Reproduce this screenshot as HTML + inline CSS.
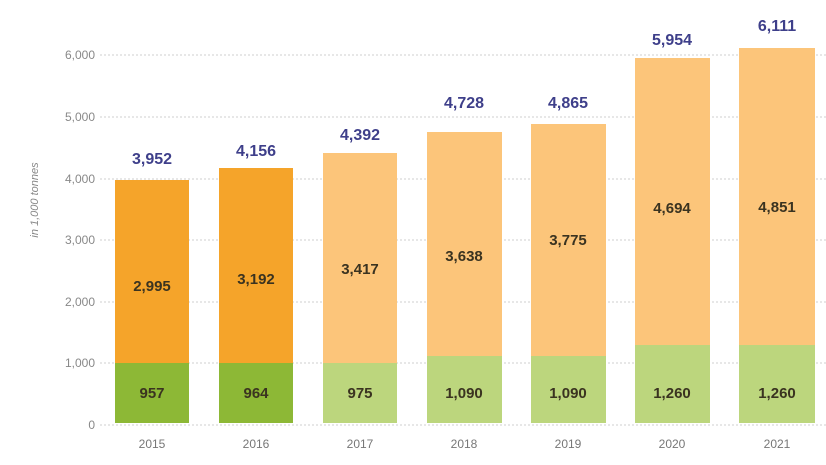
<!DOCTYPE html>
<html><head><meta charset="utf-8"><style>
body{margin:0;background:#fff;}
svg{display:block;font-family:"Liberation Sans",sans-serif;}
</style></head><body>
<svg width="826" height="465" viewBox="0 0 826 465">
<g stroke="#cfcfcf" stroke-width="1" stroke-dasharray="2,2">
<line x1="100" y1="55" x2="826" y2="55"/>
<line x1="100" y1="117" x2="826" y2="117"/>
<line x1="100" y1="179" x2="826" y2="179"/>
<line x1="100" y1="240" x2="826" y2="240"/>
<line x1="100" y1="302" x2="826" y2="302"/>
<line x1="100" y1="363" x2="826" y2="363"/>
<line x1="100" y1="425" x2="826" y2="425"/>
</g>
<g fill="#888" font-size="12" text-anchor="end">
<text x="95" y="59">6,000</text><text x="95" y="121">5,000</text><text x="95" y="183">4,000</text>
<text x="95" y="244">3,000</text><text x="95" y="306">2,000</text><text x="95" y="367">1,000</text><text x="95" y="429">0</text>
</g>
<text transform="translate(38,200) rotate(-90)" fill="#888" font-size="11" font-style="italic" text-anchor="middle">in 1,000 tonnes</text>
<!-- bars -->
<g>
<rect x="115" y="180" width="74" height="183" fill="#F5A42A"/><rect x="115" y="363" width="74" height="60" fill="#8DB836"/>
<rect x="219" y="168" width="74" height="195" fill="#F5A42A"/><rect x="219" y="363" width="74" height="60" fill="#8DB836"/>
<rect x="323" y="153" width="74" height="210" fill="#FCC57A"/><rect x="323" y="363" width="74" height="60" fill="#BCD67D"/>
<rect x="427" y="132" width="75" height="224" fill="#FCC57A"/><rect x="427" y="356" width="75" height="67" fill="#BCD67D"/>
<rect x="531" y="124" width="75" height="232" fill="#FCC57A"/><rect x="531" y="356" width="75" height="67" fill="#BCD67D"/>
<rect x="635" y="58" width="75" height="287" fill="#FCC57A"/><rect x="635" y="345" width="75" height="78" fill="#BCD67D"/>
<rect x="739" y="48" width="76" height="297" fill="#FCC57A"/><rect x="739" y="345" width="76" height="78" fill="#BCD67D"/>
</g>
<g fill="#3E3F8A" font-size="16" font-weight="bold" text-anchor="middle">
<text x="152" y="164">3,952</text><text x="256" y="156">4,156</text><text x="360" y="140">4,392</text>
<text x="464" y="108">4,728</text><text x="568" y="108">4,865</text><text x="672" y="45">5,954</text><text x="777" y="31">6,111</text>
</g>
<g fill="#3a3320" font-size="15" font-weight="bold" text-anchor="middle">
<text x="152" y="291">2,995</text><text x="256" y="284">3,192</text><text x="360" y="274">3,417</text>
<text x="464" y="261">3,638</text><text x="568" y="245">3,775</text><text x="672" y="213">4,694</text><text x="777" y="212">4,851</text>
<text x="152" y="398">957</text><text x="256" y="398">964</text><text x="360" y="398">975</text>
<text x="464" y="398">1,090</text><text x="568" y="398">1,090</text><text x="672" y="398">1,260</text><text x="777" y="398">1,260</text>
</g>
<g fill="#777" font-size="12" text-anchor="middle">
<text x="152" y="448">2015</text><text x="256" y="448">2016</text><text x="360" y="448">2017</text>
<text x="464" y="448">2018</text><text x="568" y="448">2019</text><text x="672" y="448">2020</text><text x="777" y="448">2021</text>
</g>
</svg>
</body></html>
